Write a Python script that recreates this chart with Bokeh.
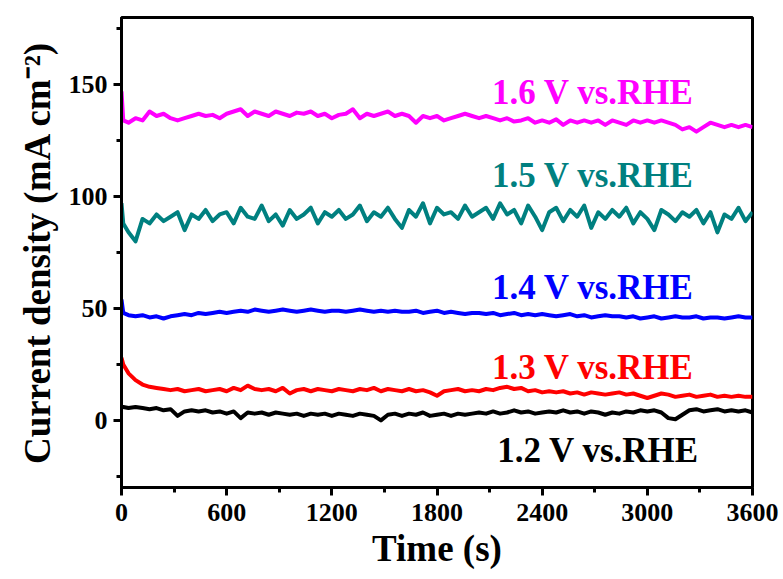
from bokeh.plotting import figure
from bokeh.models import Range1d, FixedTicker, ColumnDataSource
from bokeh.core.properties import value
from bokeh.embed import file_html
from bokeh.resources import INLINE

# ---- data ----
time_s = [0, 10] + list(range(40, 3601, 40))

j_16 = [147, 134,
        133, 135, 134, 138, 136, 137, 135, 134, 135, 136,
        137, 136, 136.5, 135, 137, 138, 139, 136, 138, 137,
        136, 138, 137, 136, 137.5, 137, 138, 136, 137, 135,
        136.5, 137, 139, 135, 137, 136, 137, 138, 136, 137,
        136, 133, 136, 135, 136, 134, 135, 136, 137, 136,
        135, 136, 135, 134, 135, 133.5, 134, 135, 133, 134,
        133, 134.5, 132, 134, 133, 134, 133, 134, 132, 134,
        133, 132, 134, 133, 134, 133, 134, 133, 132, 130,
        131, 129, 131, 133, 132, 131, 132, 131, 132, 131]

j_15 = [97, 88,
        84, 80, 90, 88, 92, 89, 91, 93, 85, 92,
        90, 94, 89, 92, 93, 88, 95, 91, 90, 96,
        89, 92, 87, 94, 90, 92, 95, 88, 93, 91,
        94, 90, 92, 96, 89, 93, 91, 95, 90, 86,
        94, 91, 97, 88, 95, 92, 93, 90, 96, 91,
        93, 95, 90, 97, 92, 94, 88, 96, 91, 85,
        93, 95, 89, 94, 91, 96, 86, 93, 90, 94,
        91, 95, 88, 93, 90, 85, 94, 92, 89, 93,
        91, 94, 88, 93, 84, 92, 90, 95, 89, 93]

j_14 = [54, 48,
        47, 46.5, 47, 46, 46.5, 45.5, 46.5, 47, 47.5, 47,
        48, 47.5, 48, 48.5, 48, 48.5, 49, 48.5, 49.5, 49,
        48.5, 49, 49.5, 49, 48.5, 49, 49.5, 49, 48.5, 49,
        49, 48.5, 49, 49.5, 49, 48.5, 49, 48.5, 49, 48.5,
        48.5, 49, 48, 48.5, 49, 48, 48.5, 48, 47.5, 48,
        48, 47.5, 48, 47, 47.5, 48, 47, 47.5, 47, 47.5,
        47, 46.5, 47, 47.5, 46.5, 47, 46, 46.5, 47, 46.5,
        46.5, 46, 46.5, 45.5, 46, 46.5, 45.5, 46, 46.5, 46,
        46, 46.5, 45.5, 46, 46, 45.5, 46, 46.5, 46, 46]

j_13 = [28, 25,
        21, 18, 16, 15, 14.5, 14, 13.5, 14, 13, 13.5,
        14, 13, 13.5, 14, 13, 14.5, 13.5, 15.5, 14, 13.5,
        14, 13, 14.5, 12, 13.5, 14, 13, 14, 13.5, 13,
        14, 13.5, 13, 14, 13.5, 14.5, 13, 14, 13.5, 13,
        14, 13, 13.5, 12.5, 11, 13, 13.5, 14, 13, 13.5,
        13, 14, 13.5, 14.5, 15, 14, 14.5, 13, 13.5, 12.5,
        13, 12.5, 13, 12, 12.5, 11.5, 12.5, 12, 11.5, 12,
        12.5, 11.5, 12, 11, 10, 11, 12, 11.5, 10.5, 11,
        11.5, 10.5, 11, 11.5, 10.5, 11, 10.5, 11, 10.5, 10.5]

j_12 = [6, 6,
        5.5, 6, 5.5, 5, 5.5, 4.5, 5, 2, 4, 4.5,
        4, 4.5, 3.5, 4, 3, 4, 1, 3.5, 3, 3.5,
        2.5, 3.5, 3, 2.5, 3, 2, 3, 2.5, 3, 2,
        3, 2.5, 2, 3, 2.5, 2, 0, 2.5, 3, 2,
        3, 2.5, 3.5, 2, 2.5, 3, 2, 3, 2.5, 3,
        3.5, 3, 4, 3, 3.5, 4.5, 3.5, 4, 3, 3.5,
        4, 3.5, 4.5, 3.5, 4, 3, 4, 3.5, 2.5, 3.5,
        3, 4, 3.5, 4.5, 4, 4.5, 3.5, 1, 0.5, 2.5,
        4.5, 5, 4, 4.5, 5, 4, 4.5, 4, 4.5, 3.5]

series_names = ["1.6 V vs.RHE", "1.5 V vs.RHE", "1.4 V vs.RHE", "1.3 V vs.RHE", "1.2 V vs.RHE"]
series_values = [j_16, j_15, j_14, j_13, j_12]
series_colors = ["#FF00FF", "#008080", "#0000FF", "#FF0000", "#000000"]
label_x = [2690, 2690, 2690, 2690, 2720]
label_y = [146.5, 109.5, 59.5, 23.5, -13.5]

x_ticks = [0, 600, 1200, 1800, 2400, 3000, 3600]
x_minor = [300, 900, 1500, 2100, 2700, 3300]
y_ticks = [0, 50, 100, 150]
y_minor = [-25, 25, 75, 125, 175]

FONT = "Liberation Serif"

p = figure(width=783, height=579, output_backend="svg", toolbar_location=None,
           x_range=Range1d(0, 3600), y_range=Range1d(-30, 180),
           min_border_left=121, min_border_right=31, min_border_top=17, min_border_bottom=92)
p.background_fill_color = "white"
p.border_fill_color = "white"
p.outline_line_color = "black"
p.outline_line_width = 3
p.xgrid.visible = False
p.ygrid.visible = False

for vals, col in zip(series_values, series_colors):
    p.line(time_s, vals, line_color=col, line_width=4, line_join="round")

src = ColumnDataSource(dict(x=label_x, y=label_y, t=series_names, c=series_colors))
p.text(x="x", y="y", text="t", text_color="c", source=src,
       text_font=value(FONT), text_font_style="bold", text_font_size="35px",
       text_align="center", text_baseline="middle")

p.xaxis.ticker = FixedTicker(ticks=x_ticks, minor_ticks=x_minor)
p.yaxis.ticker = FixedTicker(ticks=y_ticks, minor_ticks=y_minor)
p.xaxis.axis_label = "Time (s)"
p.yaxis.axis_label = "Current density (mA cm\u207b\u00b2)"

for ax in (p.xaxis, p.yaxis):
    ax.axis_line_width = 3
    ax.axis_line_color = "black"
    ax.major_tick_line_width = 3
    ax.minor_tick_line_width = 3
    ax.major_tick_out = 8
    ax.major_tick_in = 0
    ax.minor_tick_out = 5
    ax.minor_tick_in = 0
    ax.major_label_text_font = FONT
    ax.major_label_text_font_style = "bold"
    ax.major_label_text_font_size = "26px"
    ax.major_label_text_color = "black"
    ax.axis_label_text_font = FONT
    ax.axis_label_text_font_style = "bold"
    ax.axis_label_text_font_size = "37px"
    ax.axis_label_text_color = "black"

p.xaxis.major_label_standoff = 8
p.xaxis.axis_label_standoff = 4
p.yaxis.major_label_standoff = 6
p.yaxis.axis_label_standoff = 8

open("out.html", "w").write(file_html(p, INLINE))
